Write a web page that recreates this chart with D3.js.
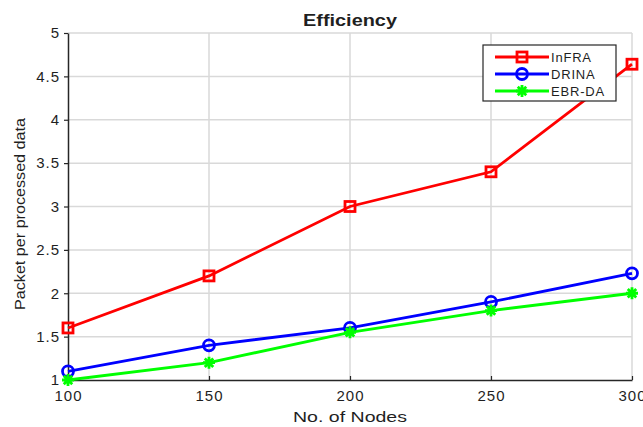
<!DOCTYPE html>
<html>
<head>
<meta charset="utf-8">
<script src="https://cdn.jsdelivr.net/npm/d3@7"></script>
<style>
body { margin: 0; background: #fff; }
text { font-family: "Liberation Sans", Arial, sans-serif; fill: #1f1f1f; }
</style>
</head>
<body>
<div id="chart"></div>
<script>
var nodes = [100, 150, 200, 250, 300];
var infra = [1.6, 2.2, 3.0, 3.4, 4.64];
var drina = [1.1, 1.4, 1.6, 1.9, 2.23];
var ebrda = [1.0, 1.2, 1.55, 1.8, 2.0];
var xTicks = [100, 150, 200, 250, 300];
var yTicks = [1, 1.5, 2, 2.5, 3, 3.5, 4, 4.5, 5];

var series = [
  {name: "InFRA", values: infra, color: "#ff0000", marker: "square"},
  {name: "DRINA", values: drina, color: "#0000ff", marker: "circle"},
  {name: "EBR-DA", values: ebrda, color: "#00ff00", marker: "star"}
];

var m = {l: 68, r: 11, t: 33, b: 47},
W = 643, H = 427,
w = W - m.l - m.r,
h = H - m.t - m.b;

var svg = d3.select("#chart").append("svg")
  .attr("width", W)
  .attr("height", H);

var g = svg.append("g")
  .attr("transform", "translate(" + m.l + "," + m.t + ")");

var x = d3.scaleLinear().domain([100, 300]).range([0, w]);
var y = d3.scaleLinear().domain([1, 5]).range([h, 0]);

// grid
g.selectAll(".gx").data(xTicks.slice(1)).enter().append("line")
  .attr("x1", function(d) { return x(d); })
  .attr("x2", function(d) { return x(d); })
  .attr("y1", 0).attr("y2", h)
  .attr("stroke", "#d9d9d9").attr("stroke-width", 1.5);
g.selectAll(".gy").data(yTicks.slice(1)).enter().append("line")
  .attr("x1", 0).attr("x2", w)
  .attr("y1", function(d) { return y(d); })
  .attr("y2", function(d) { return y(d); })
  .attr("stroke", "#d9d9d9").attr("stroke-width", 1.5);

// axes
var xAxis = g.append("g")
  .attr("transform", "translate(0," + h + ")")
  .call(d3.axisBottom(x).tickValues(xTicks).tickSize(-4).tickPadding(10).tickSizeOuter(0));
var yAxis = g.append("g")
  .call(d3.axisLeft(y).tickValues(yTicks).tickSize(4).tickPadding(4).tickFormat(d3.format("")).tickSizeOuter(0));

[xAxis, yAxis].forEach(function(a) {
  a.select(".domain").attr("stroke", "#262626").attr("stroke-width", 1.5);
  a.selectAll(".tick line").attr("stroke", "#262626").attr("stroke-width", 1.2);
  a.selectAll(".tick text")
    .attr("fill", "#1f1f1f")
    .style("font-family", "'Liberation Sans', Arial, sans-serif")
    .style("font-size", "15px")
    .style("letter-spacing", "1px");
});

// lines
var line = d3.line()
  .x(function(d, i) { return x(nodes[i]); })
  .y(function(d) { return y(d); });

function drawMarker(sel, type, color, cx, cy) {
  if (type === "square") {
    sel.append("rect")
      .attr("x", cx - 5).attr("y", cy - 5)
      .attr("width", 10).attr("height", 10)
      .attr("fill", "none").attr("stroke", color).attr("stroke-width", 2.8);
  } else if (type === "circle") {
    sel.append("circle")
      .attr("cx", cx).attr("cy", cy).attr("r", 5.5)
      .attr("fill", "none").attr("stroke", color).attr("stroke-width", 2.8);
  } else {
    var r = 6;
    var p = "";
    [0, 45, 90, 135].forEach(function(a) {
      var t = a * Math.PI / 180;
      p += "M" + (cx - r * Math.cos(t)) + "," + (cy - r * Math.sin(t)) +
           "L" + (cx + r * Math.cos(t)) + "," + (cy + r * Math.sin(t));
    });
    sel.append("path").attr("d", p)
      .attr("stroke", color).attr("stroke-width", 2.8).attr("fill", "none");
  }
}

series.forEach(function(s) {
  var sg = g.append("g");
  sg.append("path")
    .datum(s.values)
    .attr("d", line)
    .attr("fill", "none")
    .attr("stroke", s.color)
    .attr("stroke-width", 2.8);
  s.values.forEach(function(v, i) {
    drawMarker(sg, s.marker, s.color, x(nodes[i]), y(v));
  });
});

// title and labels
svg.append("text")
  .attr("x", m.l + w / 2).attr("y", 26)
  .attr("text-anchor", "middle")
  .attr("textLength", 94)
  .attr("lengthAdjust", "spacingAndGlyphs")
  .style("font-size", "16px").style("font-weight", "bold")
  .attr("fill", "#000")
  .text("Efficiency");

svg.append("text")
  .attr("x", m.l + w / 2).attr("y", 422)
  .attr("text-anchor", "middle")
  .attr("textLength", 114)
  .attr("lengthAdjust", "spacingAndGlyphs")
  .style("font-size", "15px")
  .text("No. of Nodes");

svg.append("text")
  .attr("transform", "translate(25,214) rotate(-90)")
  .attr("text-anchor", "middle")
  .attr("textLength", 192)
  .attr("lengthAdjust", "spacingAndGlyphs")
  .style("font-size", "15px")
  .text("Packet per processed data");

// legend
var lg = svg.append("g").attr("transform", "translate(483,45)");
lg.append("rect")
  .attr("width", 133).attr("height", 56)
  .attr("fill", "#fff").attr("stroke", "#262626").attr("stroke-width", 1.2);
series.forEach(function(s, i) {
  var ly = 12 + i * 17;
  lg.append("line")
    .attr("x1", 12).attr("x2", 66)
    .attr("y1", ly).attr("y2", ly)
    .attr("stroke", s.color).attr("stroke-width", 2.8);
  drawMarker(lg, s.marker, s.color, 39, ly);
  lg.append("text")
    .attr("x", 68).attr("y", ly + 5)
    .style("font-size", "13px")
    .style("letter-spacing", "0.8px")
    .attr("fill", "#000")
    .text(s.name);
});
</script>
</body>
</html>
